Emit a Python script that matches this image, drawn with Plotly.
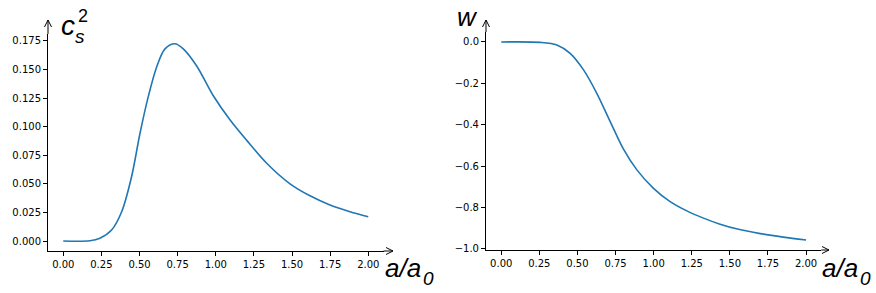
import plotly.graph_objects as go

# the page body margin is removed after plotting (post_script), so the figure fills the window
OFF = 0
W, H = 876 - OFF, 293 - OFF

# ---- data ----
a_cs2 = [0.0, 0.175, 0.24, 0.317, 0.383, 0.448, 0.503, 0.557, 0.612, 0.667, 0.732,
         0.787, 0.875, 0.984, 1.093, 1.203, 1.334, 1.487, 1.618, 1.749, 1.880, 2.0]
cs2 = [0.0, 0.0002, 0.0024, 0.0096, 0.0256, 0.0562, 0.094, 0.126, 0.152, 0.168, 0.1725,
       0.168, 0.153, 0.127, 0.106, 0.088, 0.068, 0.050, 0.0395, 0.0315, 0.0256, 0.0212]

a_w = [0.0, 0.256, 0.365, 0.452, 0.540, 0.627, 0.715, 0.802, 0.890, 0.999, 1.108,
       1.218, 1.327, 1.431, 1.55, 1.70, 1.85, 2.0]
w_vals = [0.0, -0.002, -0.0145, -0.055, -0.135, -0.248, -0.385, -0.518, -0.618, -0.707, -0.771,
          -0.816, -0.851, -0.879, -0.904, -0.926, -0.943, -0.957]

x_ticks = [0.0, 0.25, 0.5, 0.75, 1.0, 1.25, 1.5, 1.75, 2.0]
x_ticktext = ["0.00", "0.25", "0.50", "0.75", "1.00", "1.25", "1.50", "1.75", "2.00"]
cs2_ticks = [0.0, 0.025, 0.05, 0.075, 0.1, 0.125, 0.15, 0.175]
cs2_ticktext = ["0.000", "0.025", "0.050", "0.075", "0.100", "0.125", "0.150", "0.175"]
w_ticks = [0.0, -0.2, -0.4, -0.6, -0.8, -1.0]
w_ticktext = ["0.0", "\u22120.2", "\u22120.4", "\u22120.6", "\u22120.8", "\u22121.0"]


def fx(p):
    return (p - OFF) / W


def fy(p):
    return 1 - (p - OFF) / H


BLUE = "#1f77b4"
fig = go.Figure()
fig.add_trace(go.Scatter(x=a_cs2, y=cs2, mode="lines", line=dict(color=BLUE, width=1.6, shape="spline", smoothing=0.9),
                         xaxis="x", yaxis="y", showlegend=False))
fig.add_trace(go.Scatter(x=a_w, y=w_vals, mode="lines", line=dict(color=BLUE, width=1.6, shape="spline", smoothing=0.9),
                         xaxis="x2", yaxis="y2", showlegend=False))

tickfont = dict(family="DejaVu Sans", size=10, color="#000")
common = dict(showgrid=False, zeroline=False, showline=True, linecolor="#000", linewidth=1,
              ticks="outside", ticklen=4, tickwidth=1, tickcolor="#000", tickfont=tickfont, mirror=False,
              automargin=False)

# panel pixel geometry (window pixels)
L1, R1, T1, B1 = 48, 383.5, 33.9, 251
L2, R2, T2, B2 = 486, 821.3, 32, 250

fig.update_layout(
    width=W, height=H, margin=dict(l=0, r=0, t=0, b=0, autoexpand=False),
    paper_bgcolor="white", plot_bgcolor="white",
    xaxis=dict(domain=[fx(L1), fx(R1)], range=[-0.1, 2.1], tickvals=x_ticks, ticktext=x_ticktext,
               anchor="y", **common),
    yaxis=dict(domain=[fy(B1), fy(T1)], range=[-0.00874, 0.1811], tickvals=cs2_ticks, ticktext=cs2_ticktext,
               anchor="x", **common),
    xaxis2=dict(domain=[fx(L2), fx(R2)], range=[-0.1, 2.1], tickvals=x_ticks, ticktext=x_ticktext,
                anchor="y2", **common),
    yaxis2=dict(domain=[fy(B2), fy(T2)], range=[-1.005, 0.048], tickvals=w_ticks, ticktext=w_ticktext,
                anchor="x2", **common),
)

shapes = []


def seg(x0, y0, x1, y1):
    shapes.append(dict(type="line", xref="paper", yref="paper", x0=fx(x0), y0=fy(y0), x1=fx(x1), y1=fy(y1),
                       line=dict(color="#000", width=1)))


# arrows for axes
for (L, R, T, B, xtip) in [(L1, R1, T1, B1, 393), (L2, R2, T2, B2, 829)]:
    seg(R, B, xtip, B)
    seg(xtip - 7, B - 3.5, xtip, B)
    seg(xtip - 7, B + 3.5, xtip, B)
    seg(L, T, L, 20)
    seg(L - 3.5, 27, L, 20)
    seg(L + 3.5, 27, L, 20)

fig.update_layout(shapes=shapes)

LBL = dict(family="Liberation Sans", color="#000")
ann = []


def text(x, y, t, size, xa="left", ya="middle"):
    ann.append(dict(xref="paper", yref="paper", x=fx(x), y=fy(y), text=t, showarrow=False,
                    xanchor=xa, yanchor=ya, borderpad=0, font=dict(size=size, **LBL)))


# c_s^2
text(60, 26, "<i>c</i>", 28)
text(74, 36, "<i>s</i>", 19)
text(77, 16, "2", 18)
# w
text(456, 17, "<i>w</i>", 26)
# a/a0
text(384, 268, "<i>a/a</i>", 26)
text(422, 278, "<i>0</i>", 19)
text(821, 268, "<i>a/a</i>", 26)
text(859, 278, "<i>0</i>", 19)

fig.update_layout(annotations=ann)
fig.write_html("out.html", config={"displayModeBar": False},
               post_script="document.body.style.margin='0px';document.body.style.padding='0px';")
